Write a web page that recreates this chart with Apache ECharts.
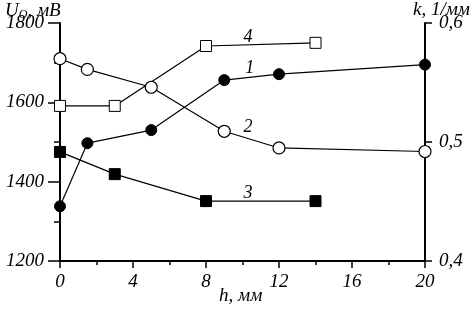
<!DOCTYPE html>
<html>
<head>
<meta charset="utf-8">
<script src="https://cdn.jsdelivr.net/npm/echarts@6/dist/echarts.min.js"></script>
<style>
  html, body { margin: 0; padding: 0; background: #fff; }
  #main { width: 471px; height: 317px; }
</style>
</head>
<body>
<div id="main"></div>
<script>
// h, mm
var hCurve12 = [0, 1.5, 5, 9, 12, 20];
var hCurve3 = [0, 3, 8, 14];
var hCurve4 = [0, 3, 8, 14];
// k, 1/mm (right axis)
var kCurve1 = [0.446, 0.499, 0.510, 0.552, 0.557, 0.565];
var kCurve2 = [0.570, 0.561, 0.546, 0.509, 0.495, 0.492];
// U_O, mV (left axis)
var uCurve3 = [1475, 1419, 1351, 1351];
var uCurve4 = [1591, 1591, 1742, 1750];
// curve numbers: [h, value]
var tag1 = [10.4, 0.562];
var tag2 = [10.3, 0.512];
var tag3 = [10.3, 1371];
var tag4 = [10.3, 1765];

var font = "Liberation Serif";

function pairs(xs, ys) {
  return xs.map(function (x, i) { return [x, ys[i]]; });
}

function tag(coord, text) {
  return {
    symbol: "circle",
    symbolSize: 0,
    data: [{ coord: coord }],
    label: {
      show: true,
      position: "inside",
      formatter: text,
      color: "#000",
      fontFamily: font,
      fontStyle: "italic",
      fontSize: 18
    }
  };
}

var chart = echarts.init(document.getElementById("main"));

var axisText = {
  color: "#000",
  fontFamily: font,
  fontStyle: "italic",
  fontSize: 19
};

var option = {
  animation: false,
  grid: { left: 60, right: 46, top: 23, bottom: 56 },
  xAxis: {
    type: "value",
    min: 0,
    max: 20,
    interval: 4,
    axisLine: { lineStyle: { color: "#000", width: 2 } },
    axisTick: { length: 7, lineStyle: { color: "#000", width: 1.5 } },
    minorTick: { show: true, splitNumber: 2, length: 4, lineStyle: { color: "#000", width: 1.5 } },
    splitLine: { show: false },
    axisLabel: Object.assign({ margin: 11 }, axisText)
  },
  yAxis: [
    {
      type: "value",
      min: 1200,
      max: 1800,
      interval: 200,
      axisLine: { show: true, lineStyle: { color: "#000", width: 2 } },
      axisTick: { show: true, length: 12, lineStyle: { color: "#000", width: 1.5 } },
      minorTick: { show: true, splitNumber: 2, length: 6, lineStyle: { color: "#000", width: 1.5 } },
      splitLine: { show: false },
      axisLabel: Object.assign({ margin: 16, formatter: function (v) { return String(v); } }, axisText)
    },
    {
      type: "value",
      min: 0.4,
      max: 0.6,
      interval: 0.1,
      position: "right",
      axisLine: { show: true, lineStyle: { color: "#000", width: 2 } },
      axisTick: { show: true, length: 7, lineStyle: { color: "#000", width: 1.5 } },
      splitLine: { show: false },
      axisLabel: Object.assign({
        margin: 14,
        formatter: function (v) { return v.toFixed(1).replace(".", ","); }
      }, axisText)
    }
  ],
  graphic: [
    {
      type: "text",
      left: 5,
      top: 1,
      style: {
        text: "{a|U}{s|O}{a|, мВ}",
        rich: {
          a: { fontFamily: font, fontStyle: "italic", fontSize: 19, fill: "#000" },
          s: { fontFamily: font, fontStyle: "italic", fontSize: 12, fill: "#000", padding: [8, 0, 0, 0] }
        }
      }
    },
    {
      type: "text",
      right: 1,
      top: 0,
      style: {
        text: "k, 1/мм",
        fontFamily: font,
        fontStyle: "italic",
        fontSize: 19,
        fill: "#000"
      }
    },
    {
      type: "text",
      left: 219,
      top: 286,
      style: {
        text: "h, мм",
        fontFamily: font,
        fontStyle: "italic",
        fontSize: 19,
        fill: "#000"
      }
    }
  ],
  series: [
    {
      name: "1",
      type: "line",
      yAxisIndex: 1,
      data: pairs(hCurve12, kCurve1),
      symbol: "circle",
      symbolSize: 11,
      itemStyle: { color: "#000", borderColor: "#000" },
      lineStyle: { color: "#000", width: 1.2 },
      markPoint: tag(tag1, "1"),
      z: 3
    },
    {
      name: "2",
      type: "line",
      yAxisIndex: 1,
      data: pairs(hCurve12, kCurve2),
      symbol: "circle",
      symbolSize: 12,
      itemStyle: { color: "#fff", borderColor: "#000", borderWidth: 1.2 },
      lineStyle: { color: "#000", width: 1.2 },
      markPoint: tag(tag2, "2"),
      z: 3
    },
    {
      name: "3",
      type: "line",
      yAxisIndex: 0,
      data: pairs(hCurve3, uCurve3),
      symbol: "rect",
      symbolSize: 11,
      itemStyle: { color: "#000", borderColor: "#000" },
      lineStyle: { color: "#000", width: 1.2 },
      markPoint: tag(tag3, "3"),
      z: 3
    },
    {
      name: "4",
      type: "line",
      yAxisIndex: 0,
      data: pairs(hCurve4, uCurve4),
      symbol: "rect",
      symbolSize: 11,
      itemStyle: { color: "#fff", borderColor: "#000", borderWidth: 1 },
      lineStyle: { color: "#000", width: 1.2 },
      markPoint: tag(tag4, "4"),
      z: 3
    }
  ]
};

chart.setOption(option);
</script>
</body>
</html>
